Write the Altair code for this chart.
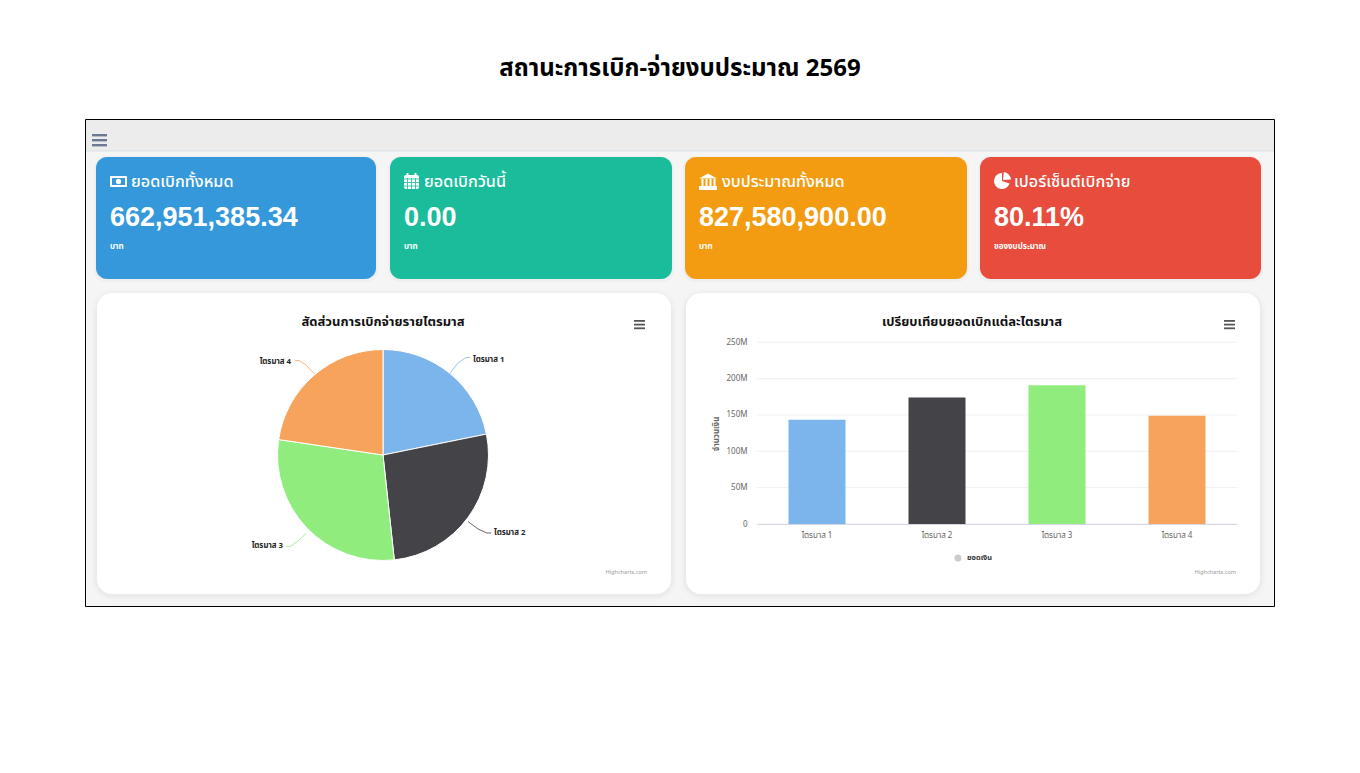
import altair as alt
import pandas as pd

# ---- data ----
quarters = ["ไตรมาส 1", "ไตรมาส 2", "ไตรมาส 3", "ไตรมาส 4"]
amounts = [143.5e6, 174.0e6, 191.0e6, 149.0e6]
colors = ["#7cb5ec", "#434348", "#90ed7d", "#f7a35c"]
y_ticks = [0, 50e6, 100e6, 150e6, 200e6, 250e6]
card_titles = ["ยอดเบิกทั้งหมด", "ยอดเบิกวันนี้", "งบประมาณทั้งหมด", "เปอร์เซ็นต์เบิกจ่าย"]
card_values = ["662,951,385.34", "0.00", "827,580,900.00", "80.11%"]
card_units = ["บาท", "บาท", "บาท", "ของงบประมาณ"]
card_colors = ["#3498db", "#1abc9c", "#f39c12", "#e74c3c"]
main_title = "สถานะการเบิก-จ่ายงบประมาณ 2569"
pie_title = "สัดส่วนการเบิกจ่ายรายไตรมาส"
bar_title = "เปรียบเทียบยอดเบิกแต่ละไตรมาส"

W, H = 1344, 750
THAI = "Noto Sans, Noto Sans Thai, sans-serif"
df = pd.DataFrame({"q": quarters, "v": amounts, "i": range(4)})
one = alt.Data(values=[{"a": 1}])
L = []


def rect(x0, y0, x1, y1, fill="#fff", r=0, stroke=None, sw=0, op=1.0):
    kw = dict(fill=fill, cornerRadius=r, opacity=op)
    if stroke:
        kw.update(stroke=stroke, strokeWidth=sw)
    L.append(alt.Chart(one).mark_rect(**kw).encode(
        x=alt.value(x0 - 8), x2=alt.value(x1 - 8), y=alt.value(y0 - 8), y2=alt.value(y1 - 8)))


def seg(x0, y0, x1, y1, color, w=1.0):
    L.append(alt.Chart(one).mark_rule(color=color, strokeWidth=w).encode(
        x=alt.value(x0 - 8), x2=alt.value(x1 - 8), y=alt.value(y0 - 8), y2=alt.value(y1 - 8)))


def txt(s, x, y, size, color="#000", weight="normal", align="left", font=THAI, angle=0):
    L.append(alt.Chart(one).mark_text(text=s, fontSize=size, color=color, fontWeight=weight,
                                      align=align, baseline="middle", font=font, angle=angle).encode(
        x=alt.value(x - 8), y=alt.value(y - 8)))


def burger(x0, x1, y0, step, h, color):
    for k in range(3):
        rect(x0, y0 + k * step, x1, y0 + k * step + h, color)


# page frame
txt(main_title, 680, 69, 24, "#000", "bold", "center")
rect(85.5, 119.5, 1274.5, 606.5, "#f5f5f5", 0, "#000", 1)
rect(86, 120, 1274, 151, "#ececec")
seg(86, 151, 1274, 151, "#dde3e8")
burger(92, 107, 134, 5, 2.4, "#6b7a90")

# stat cards
cards = [(96, 376), (390, 672), (685, 967), (980, 1261)]
for (a, b), c, t, v, u in zip(cards, card_colors, card_titles, card_values, card_units):
    rect(a - 2, 156, b + 2, 282, "#000", 12, op=0.025)
    rect(a, 157, b, 279, c, 11)
    left = a + 14
    txt(t, left + 20 + (1 if a == 96 else 0) + (3 if a == 685 else 0), 182, 16.2, "#fff", 500)
    txt(v, left, 218, 27, "#fff", "bold", font="Liberation Sans")
    txt(u, left, 247, 8, "#fff", "bold")

# icons
rect(110, 176, 127, 187, "#fff", 1)
rect(112, 178, 125, 185, "#3498db")
L.append(alt.Chart(one).mark_point(filled=True, color="#fff", opacity=1, size=28).encode(x=alt.value(110.5), y=alt.value(173.5)))
rect(404, 175, 419, 189, "#fff", 2)
for gx in (407.5, 411.5, 415.5):
    seg(gx, 178, gx, 189, "#1abc9c", 0.8)
for gy in (179, 182.5, 186):
    seg(404, gy, 419, gy, "#1abc9c", 0.8)
seg(407.5, 173, 407.5, 176, "#fff", 2)
seg(415.5, 173, 415.5, 176, "#fff", 2)
L.append(alt.Chart(one).mark_point(filled=True, color="#fff", opacity=1, shape="M-1,0L0,-0.55L1,0Z", size=320).encode(x=alt.value(700), y=alt.value(170.5)))
for bx in (701.5, 705.5, 709.5, 713.5):
    rect(bx, 179, bx + 2, 186, "#fff")
rect(699, 186, 717, 190, "#fff")
L.append(alt.Chart(one).mark_arc(color="#fff", radius=8, theta=1.9, theta2=6.28).encode(x=alt.value(994), y=alt.value(173)))
L.append(alt.Chart(one).mark_arc(color="#fff", radius=8, theta=0.1, theta2=1.5).encode(x=alt.value(995), y=alt.value(172)))

# chart cards
for a, b in [(97, 671), (686, 1260)]:
    for g, op in ((6, 0.008), (4, 0.012), (2, 0.018)):
        rect(a - g, 293 - g + 2, b + g, 594 + g + 1, "#000", 15 + g, op=op)
    rect(a, 293, b, 594, "#fff", 15)

txt(pie_title, 383, 322, 13, "#111", "bold", "center")
txt(bar_title, 972, 322, 13, "#111", "bold", "center")
burger(634, 645, 320, 3.7, 1.8, "#555")
burger(1224, 1235, 320, 3.7, 1.8, "#555")
txt("Highcharts.com", 647, 572, 5.6, "#999", align="right")
txt("Highcharts.com", 1236, 572, 5.6, "#999", align="right")

# pie connectors
conn = [
    [(449.5, 374), (458, 363), (466, 357.5), (470, 357.5)],
    [(468, 521.5), (478, 529), (487, 533), (491, 533)],
    [(306.5, 533), (298, 541), (290, 546.5), (286, 546.5)],
    [(314.5, 374), (306, 365), (299, 360.5), (295, 360.5)],
]
for col, pts in zip(colors, conn):
    for p, n in zip(pts[:-1], pts[1:]):
        seg(p[0], p[1], n[0], n[1], col, 0.8)
for s, x, y, al in [(quarters[0], 473, 360, "left"), (quarters[1], 494, 532.5, "left"),
                    (quarters[2], 283, 545.5, "right"), (quarters[3], 291, 362, "right")]:
    txt(s, x, y, 7.8, "#222", "bold", al)

color_scale = alt.Scale(domain=quarters, range=colors)
x_scale = alt.Scale(domain=quarters, range=[757 - 8, 1237 - 8], paddingInner=0.525, paddingOuter=0.2625)
y_scale = alt.Scale(domain=[0, 250e6], range=[524 - 8, 342.3 - 8])
y_axis = alt.Axis(orient="left", offset=-(747 - 8), values=y_ticks, grid=False, ticks=False, domain=False, zindex=1,
                  labelColor="#666", labelFontSize=8, labelFont=THAI, labelPadding=0,
                  labelExpr="datum.value == 0 ? '0' : (datum.value / 1000000) + 'M'")

pie = alt.Chart(df).mark_arc(radius=105.5, stroke="#fff", strokeWidth=1).encode(
    x=alt.value(383 - 8), y=alt.value(455 - 8),
    theta=alt.Theta("v:Q", stack=True),
    color=alt.Color("q:N", scale=color_scale, legend=None),
    order=alt.Order("i:Q"),
)
L.append(pie)

grid = alt.Chart(pd.DataFrame({"t": y_ticks})).mark_rule(color="#f0f0f0", strokeWidth=1).encode(
    y=alt.Y("t:Q", scale=y_scale, axis=y_axis, title=None),
    x=alt.value(757 - 8), x2=alt.value(1237 - 8),
)
L.append(grid)

bars = alt.Chart(df).mark_bar().encode(
    x=alt.X("q:N", scale=x_scale, sort=quarters, title=None,
            axis=alt.Axis(orient="bottom", offset=(524 - 8) - H, labelAngle=0, ticks=False, grid=False, zindex=1,
                          labelColor="#666", labelFontSize=8, labelFont=THAI, labelPadding=7,
                          domainColor="#d5d8e0", domainWidth=1)),
    y=alt.Y("v:Q", scale=y_scale, title=None, axis=y_axis),
    color=alt.Color("q:N", scale=color_scale, legend=None),
)
L.append(bars)

txt("จำนวนเงิน", 717, 434, 8, "#666", "bold", "center", angle=270)
L.append(alt.Chart(one).mark_point(filled=True, color="#cccccc", opacity=1, size=50).encode(x=alt.value(958 - 8), y=alt.value(558 - 8)))
txt("ยอดเงิน", 967, 558, 7.4, "#333", "bold")

chart = alt.layer(*L).properties(
    width=W, height=H, padding=0, background="#ffffff", autosize=alt.AutoSizeParams(type="none"),
    view=alt.ViewBackground(stroke=None, strokeWidth=0),
).configure_view(stroke=None, strokeWidth=0)
chart.save("out.html", embed_options={"renderer": "svg", "actions": False})
